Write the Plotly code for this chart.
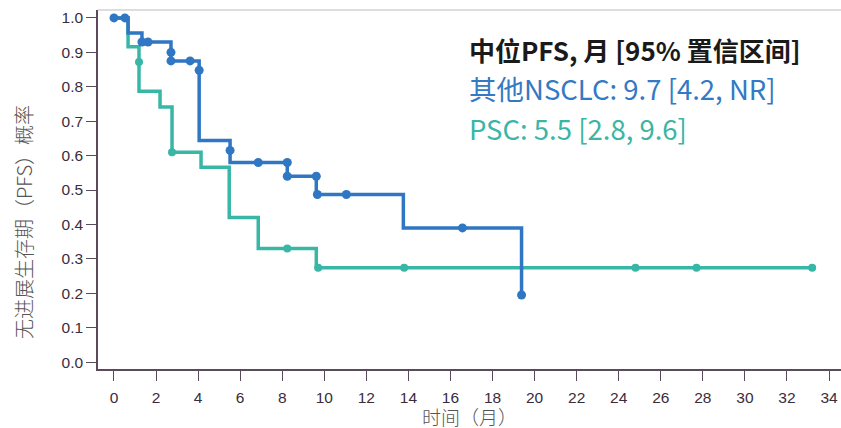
import plotly.graph_objects as go

# ---- data ----
nsclc_t = [0, 0.67, 1.33, 2.71, 4.05, 5.52, 8.24, 9.62, 13.76, 19.38]
nsclc_s = [1.0, 0.956, 0.93, 0.875, 0.644, 0.58, 0.54, 0.487, 0.39, 0.195]
nsclc_cens_t = [0, 0.52, 1.33, 1.62, 2.71, 2.71, 3.62, 4.05, 5.52, 6.86, 8.24, 8.24, 9.62, 9.67, 11.05, 16.57, 19.38]
nsclc_cens_s = [1.0, 1.0, 0.93, 0.93, 0.90, 0.875, 0.875, 0.848, 0.615, 0.58, 0.58, 0.54, 0.54, 0.487, 0.487, 0.39, 0.195]

psc_t = [0, 0.67, 1.19, 2.19, 2.76, 4.14, 5.48, 6.86, 9.62, 33.2]
psc_s = [1.0, 0.916, 0.787, 0.741, 0.61, 0.566, 0.42, 0.33, 0.274, 0.274]
psc_cens_t = [1.19, 2.76, 8.24, 9.71, 13.8, 24.8, 27.7, 33.2]
psc_cens_s = [0.872, 0.61, 0.33, 0.274, 0.274, 0.274, 0.274, 0.274]

x_ticks = list(range(0, 35, 2))
y_ticks = [round(i / 10, 1) for i in range(11)]

x_title = "时间（月）"
y_title = "无进展生存期（PFS）概率"
title_line = "中位PFS, 月 [95% 置信区间]"
nsclc_label = "其他NSCLC: 9.7 [4.2, NR]"
psc_label = "PSC: 5.5 [2.8, 9.6]"

BLUE = "#2f77c3"
TEAL = "#38b7a6"
AXIS = "#5a4a5c"
CJK = "Noto Sans CJK SC"

L, T, B = 98, 10, 59
PW, PH = 841 - L, 428 - T - B

fig = go.Figure()
fig.add_trace(go.Scatter(x=psc_t, y=psc_s, mode="lines", line=dict(color=TEAL, width=3.5, shape="hv"),
                         hoverinfo="skip", showlegend=False))
fig.add_trace(go.Scatter(x=psc_cens_t, y=psc_cens_s, mode="markers",
                         marker=dict(color=TEAL, size=8), showlegend=False))
fig.add_trace(go.Scatter(x=nsclc_t, y=nsclc_s, mode="lines", line=dict(color=BLUE, width=3.5, shape="hv"),
                         hoverinfo="skip", showlegend=False))
fig.add_trace(go.Scatter(x=nsclc_cens_t, y=nsclc_cens_s, mode="markers",
                         marker=dict(color=BLUE, size=9), showlegend=False))

fig.update_layout(
    width=841, height=428,
    margin=dict(l=L, r=0, t=T, b=B),
    paper_bgcolor="white", plot_bgcolor="white",
    font=dict(family="Liberation Sans", size=15, color="#3a2c3c"),
    xaxis=dict(range=[-0.76, 34.57], tickvals=x_ticks, ticks="outside", ticklen=10, tickwidth=1.3,
               tickcolor=AXIS, showline=True, linecolor=AXIS, linewidth=1.5, showgrid=False, zeroline=False,
               automargin=False, ticklabelstandoff=4,
               tickfont=dict(family="Liberation Sans", size=15.5, color="#3a2c3c")),
    yaxis=dict(range=[-0.020, 1.023], tickvals=y_ticks, tickformat=".1f", ticks="outside", ticklen=10,
               tickwidth=1.3, tickcolor=AXIS, showline=True, linecolor=AXIS, linewidth=1.5, showgrid=False,
               zeroline=False, automargin=False,
               tickfont=dict(family="Liberation Sans", size=15.5, color="#3a2c3c")),
    shapes=[dict(type="line", xref="paper", yref="paper", x0=0, x1=1, y0=1, y1=1,
                 line=dict(color="#d4d0d4", width=1.5))],
)

def px(x):
    return (x - L) / PW

def py(y):
    return (T + PH - y) / PH

fig.add_annotation(xref="paper", yref="paper", x=px(470), y=py(416), xanchor="center", yanchor="middle",
                   text=x_title, showarrow=False, borderpad=0,
                   font=dict(family=CJK, size=19, color="#555555", weight=300))
fig.add_annotation(xref="paper", yref="paper", x=px(23), y=py(222), xanchor="center", yanchor="middle",
                   text=y_title, textangle=-90, showarrow=False,
                   font=dict(family=CJK, size=20, color="#555555", weight=300))

fig.add_annotation(xref="paper", yref="paper", x=px(467), y=py(50), xanchor="left", yanchor="middle",
                   text="<b>" + title_line + "</b>", showarrow=False,
                   font=dict(family=CJK, size=26, color="#1a1a1a"))
fig.add_annotation(xref="paper", yref="paper", x=px(467), y=py(88), xanchor="left", yanchor="middle",
                   text=nsclc_label, showarrow=False, font=dict(family=CJK, size=27.5, color="#3479c4"))
fig.add_annotation(xref="paper", yref="paper", x=px(467), y=py(128), xanchor="left", yanchor="middle",
                   text=psc_label, showarrow=False, font=dict(family=CJK, size=27.5, color="#3bb5a4"))

fig.write_html("out.html", config={"displayModeBar": False},
               post_script="document.body.style.margin='0';")
